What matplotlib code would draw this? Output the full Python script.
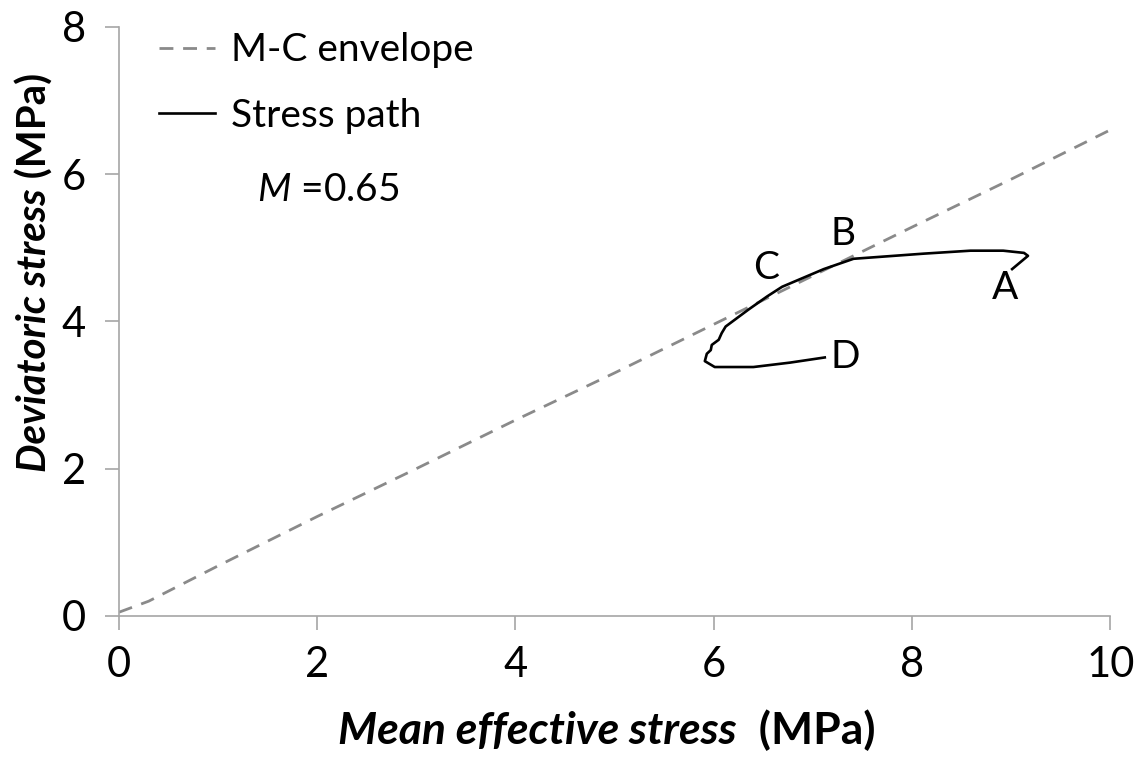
import matplotlib
matplotlib.use("Agg")
import matplotlib.pyplot as plt

plt.rcParams['font.family'] = ['Lato', 'DejaVu Sans']
plt.rcParams['mathtext.fontset'] = 'custom'
plt.rcParams['mathtext.it'] = 'Lato:italic'
plt.rcParams['mathtext.rm'] = 'Lato'

# M-C envelope (q = M p)
env_p = [0, 0.3, 1, 2, 3, 4, 5, 6, 7, 8, 9, 10]
env_q = [0.05, 0.2, 0.68, 1.35, 2.0, 2.66, 3.3, 3.96, 4.62, 5.28, 5.93, 6.6]

# stress path A -> B -> C -> D
path_p = [9.01, 9.17, 9.13, 8.92, 8.59, 8.12, 7.41, 7.11, 6.69, 6.54, 6.35, 6.12,
          6.08, 6.05, 5.98, 5.97, 5.93, 5.91, 6.01, 6.40, 6.77, 7.12]
path_q = [4.71, 4.89, 4.93, 4.96, 4.96, 4.92, 4.85, 4.71, 4.47, 4.34, 4.16, 3.93,
          3.84, 3.75, 3.68, 3.61, 3.56, 3.46, 3.38, 3.38, 3.44, 3.51]

point_names = ['A', 'B', 'C', 'D']
point_p = [8.94, 7.30, 6.53, 7.33]
point_q = [4.46, 5.18, 4.73, 3.51]

fig = plt.figure(figsize=(11.42, 7.67), dpi=100)
ax = fig.add_axes([0.1042, 0.197, 0.868, 0.768])

ax.plot(env_p, env_q, color='#8a8a8a', lw=2.0, dashes=(5, 3.5), label='M-C envelope')
ax.plot(path_p, path_q, color='black', lw=1.9, label='Stress path')

for name, p, q in zip(point_names, point_p, point_q):
    ax.text(p, q, name, fontsize=28, ha='center', va='center')

ax.text(1.39, 5.79, r'$M$ =0.65', fontsize=28, ha='left', va='center')

ax.set_xlim(0, 10)
ax.set_ylim(0, 8)
ax.set_xticks([0, 2, 4, 6, 8, 10])
ax.set_yticks([0, 2, 4, 6, 8])
for s in ['top', 'right']:
    ax.spines[s].set_visible(False)
for s in ['left', 'bottom']:
    ax.spines[s].set_color('#a6a6a6')
    ax.spines[s].set_linewidth(1.2)
ax.tick_params(axis='both', direction='out', length=10, width=1.2, color='#a6a6a6',
               labelsize=30)
ax.tick_params(axis='x', pad=12)
ax.tick_params(axis='y', pad=14)

ax.legend(loc='upper left', bbox_to_anchor=(0.005, 1.05), frameon=False, fontsize=28,
          handlelength=1.45, handletextpad=0.4, labelspacing=0.75)

# axis titles: italic words + upright unit
xl = fig.text(0.296, 0.03, 'Mean effective stress', fontsize=32, fontweight='bold',
              fontstyle='italic', ha='left', va='baseline')
ax.annotate('  (MPa)', xy=(1, 0), xycoords=xl, fontsize=32, fontweight='bold',
            ha='left', va='bottom')
yl = fig.text(0.046, 0.385, 'Deviatoric stress', fontsize=29, fontweight='bold',
              fontstyle='italic', rotation=90, ha='right', va='bottom')
ax.annotate(' (MPa)', xy=(0, 1), xycoords=yl, fontsize=29, fontweight='bold',
            rotation=90, ha='left', va='bottom')

fig.savefig('out.png', dpi=100)
